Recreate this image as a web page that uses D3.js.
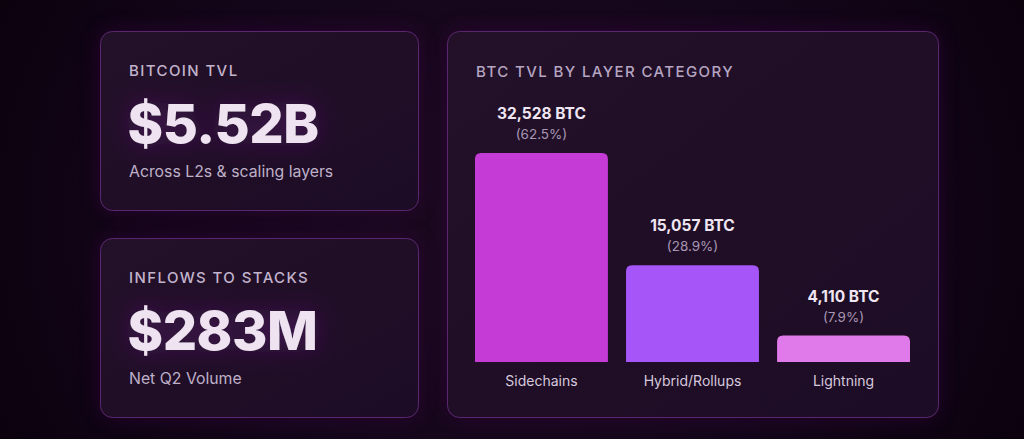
<!DOCTYPE html>
<html>
<head>
<meta charset="utf-8">
<script src="https://cdn.jsdelivr.net/npm/d3@7"></script>
<style>
  html, body { margin: 0; padding: 0; background: #0d0310; }
  svg { display: block; font-family: Inter, "Noto Sans", sans-serif; }
</style>
</head>
<body>
<div id="chart"></div>
<script>
// data
const categories = ["Sidechains", "Hybrid/Rollups", "Lightning"];
const btcValues = [32528, 15057, 4110];
const shareLabels = ["62.5%", "28.9%", "7.9%"];
const barColors = ["#c43bd6", "#a656f8", "#e07aeb"];

const kpiTitles = ["BITCOIN TVL", "INFLOWS TO STACKS"];
const kpiValues = ["$5.52B", "$283M"];
const kpiNotes = ["Across L2s & scaling layers", "Net Q2 Volume"];

function init() {
    const width = 1024, height = 439;

    const svg = d3.select("#chart")
        .append("svg")
        .attr("width", width)
        .attr("height", height);

    const defs = svg.append("defs");

    // background glow
    const bg = defs.append("radialGradient")
        .attr("id", "bg")
        .attr("cx", "50%").attr("cy", "50%")
        .attr("r", "55%")
        .attr("gradientTransform", "translate(0.5,0.5) scale(1,2.1) translate(-0.5,-0.5)");
    bg.append("stop").attr("offset", "0%").attr("stop-color", "#1c0a20");
    bg.append("stop").attr("offset", "60%").attr("stop-color", "#14061a");
    bg.append("stop").attr("offset", "100%").attr("stop-color", "#0b020e");

    const cardFill = defs.append("linearGradient")
        .attr("id", "cardFill")
        .attr("x1", "0").attr("y1", "0").attr("x2", "1").attr("y2", "1");
    cardFill.append("stop").attr("offset", "0%").attr("stop-color", "#231029");
    cardFill.append("stop").attr("offset", "100%").attr("stop-color", "#1d0c25");

    const cardGlow = defs.append("filter")
        .attr("id", "cardGlow")
        .attr("x", "-20%").attr("y", "-20%")
        .attr("width", "140%").attr("height", "140%");
    cardGlow.append("feGaussianBlur").attr("stdDeviation", 10);

    const textGlow = defs.append("filter")
        .attr("id", "textGlow")
        .attr("x", "-30%").attr("y", "-60%")
        .attr("width", "160%").attr("height", "220%");
    textGlow.append("feGaussianBlur").attr("in", "SourceAlpha").attr("stdDeviation", 12).attr("result", "b");
    textGlow.append("feFlood").attr("flood-color", "#7a2296").attr("flood-opacity", 0.45);
    textGlow.append("feComposite").attr("in2", "b").attr("operator", "in").attr("result", "g");
    const merge = textGlow.append("feMerge");
    merge.append("feMergeNode").attr("in", "g");
    merge.append("feMergeNode").attr("in", "SourceGraphic");

    svg.append("rect")
        .attr("width", width).attr("height", height)
        .attr("fill", "url(#bg)");

    const cards = [
        { x: 100, y: 31, w: 318, h: 179 },
        { x: 100, y: 238, w: 318, h: 179 },
        { x: 447, y: 31, w: 491, h: 386 }
    ];

    // glow behind cards
    svg.append("g").selectAll("rect")
        .data(cards)
        .join("rect")
        .attr("x", d => d.x).attr("y", d => d.y)
        .attr("width", d => d.w).attr("height", d => d.h)
        .attr("rx", 12)
        .attr("fill", "#3a1045")
        .attr("opacity", 0.55)
        .attr("filter", "url(#cardGlow)");

    svg.append("g").selectAll("rect")
        .data(cards)
        .join("rect")
        .attr("x", d => d.x + 0.5).attr("y", d => d.y + 0.5)
        .attr("width", d => d.w).attr("height", d => d.h)
        .attr("rx", 12)
        .attr("fill", "url(#cardFill)")
        .attr("stroke", "#5a2670")
        .attr("stroke-width", 1);

    // KPI cards
    const kpi = svg.append("g").selectAll("g")
        .data(kpiTitles)
        .join("g")
        .attr("transform", (d, i) => `translate(129,${cards[i].y})`);

    kpi.append("text")
        .attr("y", 45)
        .attr("fill", "#c2b4cc")
        .style("font-size", "15px")
        .style("font-weight", 500)
        .style("letter-spacing", "1.4px")
        .text(d => d);

    kpi.append("text")
        .attr("y", 111.5)
        .attr("x", -1.5)
        .attr("fill", "#efe3f2")
        .attr("filter", "url(#textGlow)")
        .style("font-size", "54px")
        .style("font-weight", 800)
        .style("letter-spacing", "-0.5px")
        .text((d, i) => kpiValues[i]);

    kpi.append("text")
        .attr("y", 146)
        .attr("fill", "#bfb0c9")
        .style("font-size", "15.8px")
        .text((d, i) => kpiNotes[i]);

    // bar chart
    svg.append("text")
        .attr("x", 476).attr("y", 77)
        .attr("fill", "#b6a6c2")
        .style("font-size", "15px")
        .style("font-weight", 500)
        .style("letter-spacing", "1.4px")
        .text("BTC TVL BY LAYER CATEGORY");

    const x = d3.scaleBand()
        .domain(categories)
        .range([475, 910])
        .paddingInner(0.12);

    const y = d3.scaleLinear()
        .domain([0, d3.max(btcValues)])
        .range([362, 153]);

    const r = 6;
    function barPath(x0, y0, w, h) {
        return `M${x0},${y0 + h} V${y0 + r} Q${x0},${y0} ${x0 + r},${y0} H${x0 + w - r} Q${x0 + w},${y0} ${x0 + w},${y0 + r} V${y0 + h} Z`;
    }

    const bars = svg.append("g").selectAll("g")
        .data(categories)
        .join("g");

    bars.append("path")
        .attr("d", (d, i) => barPath(x(d), y(btcValues[i]), x.bandwidth(), y(0) - y(btcValues[i])))
        .attr("fill", (d, i) => barColors[i]);

    bars.append("text")
        .attr("x", d => x(d) + x.bandwidth() / 2)
        .attr("y", (d, i) => y(btcValues[i]) - 34)
        .attr("text-anchor", "middle")
        .attr("fill", "#efe6f2")
        .style("font-size", "15.5px")
        .style("font-weight", 700)
        .text((d, i) => d3.format(",")(btcValues[i]) + " BTC");

    bars.append("text")
        .attr("x", d => x(d) + x.bandwidth() / 2)
        .attr("y", (d, i) => y(btcValues[i]) - 14)
        .attr("text-anchor", "middle")
        .attr("fill", "#a897b4")
        .style("font-size", "13.5px")
        .text((d, i) => `(${shareLabels[i]})`);

    bars.append("text")
        .attr("x", d => x(d) + x.bandwidth() / 2)
        .attr("y", 386)
        .attr("text-anchor", "middle")
        .attr("fill", "#d6c9dd")
        .style("font-size", "14px")
        .text(d => d);
}

window.onload = init;
</script>
</body>
</html>
